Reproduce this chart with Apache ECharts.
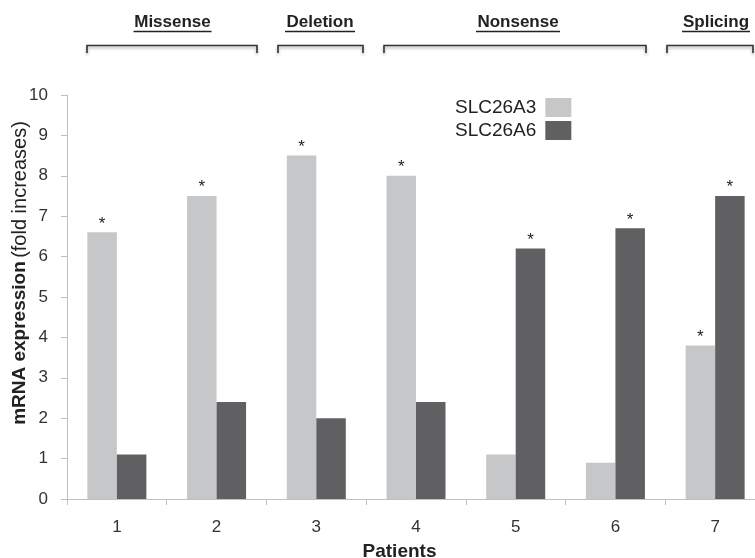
<!DOCTYPE html>
<html>
<head>
<meta charset="utf-8">
<script src="https://cdn.jsdelivr.net/npm/echarts@6/dist/echarts.min.js"></script>
<style>html,body{margin:0;padding:0;background:#fff;}#c{width:755px;height:558px;}</style>
</head>
<body>
<div id="c"></div>
<script>
const patients = ['1','2','3','4','5','6','7'];
const slc26a3 = [6.6, 7.5, 8.5, 8.0, 1.1, 0.9, 3.8];
const slc26a6 = [1.1, 2.4, 2.0, 2.4, 6.2, 6.7, 7.5];
const sigA3 = [1, 1, 1, 1, 0, 0, 1];
const sigA6 = [0, 0, 0, 0, 1, 1, 1];
const groups = ['Missense', 'Deletion', 'Nonsense', 'Splicing'];
const yTicks = [0, 10, 1];

const FONT = 'Liberation Sans, Arial, sans-serif';
const LIGHT = '#c6c7c9';
const DARK = '#606062';
const AXIS = '#c0c0c0';

function mark(values, sig) {
  return values.map((v, i) => ({
    value: v,
    label: { show: !!sig[i] }
  }));
}

// annotation geometry (decorations above the plot)
const groupText = [
  { x: 172.5, w: 78 },
  { x: 320, w: 70 },
  { x: 518, w: 84 },
  { x: 716, w: 68 }
];
const brackets = [[87, 257], [278, 363], [384, 646], [667, 753]];

const graphic = [];
groups.forEach((g, i) => {
  graphic.push({
    type: 'text', x: groupText[i].x, y: 22,
    style: { text: g, font: 'bold 17px ' + FONT, fill: '#222', align: 'center', verticalAlign: 'middle' }
  });
  graphic.push({
    type: 'line',
    shape: { x1: groupText[i].x - groupText[i].w / 2, y1: 31.5, x2: groupText[i].x + groupText[i].w / 2, y2: 31.5 },
    style: { stroke: '#222', lineWidth: 1.6 }
  });
  const b = brackets[i];
  graphic.push({
    type: 'polyline',
    shape: { points: [[b[0], 53], [b[0], 45.5], [b[1], 45.5], [b[1], 53]] },
    style: {
      stroke: '#333', lineWidth: 1.6, fill: null,
      shadowBlur: 3, shadowColor: 'rgba(0,0,0,0.35)', shadowOffsetY: 2
    }
  });
});

const chart = echarts.init(document.getElementById('c'));
chart.setOption({
  animation: false,
  backgroundColor: '#fff',
  textStyle: { fontFamily: FONT },
  grid: { left: 67, right: -10, top: 95, bottom: 59, containLabel: false, outerBoundsMode: 'none' },
  legend: {
    orient: 'vertical', left: 450, top: 93,
    align: 'right', itemWidth: 26, itemHeight: 19, itemGap: 4,
    icon: 'rect',
    textStyle: { fontSize: 19, color: '#222', fontFamily: FONT, padding: [0, 4, 0, 0] },
    data: ['SLC26A3', 'SLC26A6']
  },
  xAxis: {
    type: 'category', data: patients,
    name: 'Patients', nameLocation: 'middle', nameGap: 43,
    nameTextStyle: { fontSize: 19, fontWeight: 'bold', color: '#222', padding: [0, 33, 0, 0] },
    axisLine: { lineStyle: { color: AXIS, width: 1 } },
    axisTick: { show: true, length: 6, lineStyle: { color: AXIS } },
    axisLabel: { fontSize: 17, color: '#333', margin: 20 }
  },
  yAxis: {
    type: 'value', min: yTicks[0], max: yTicks[1], interval: yTicks[2],
    name: '{b|mRNA expression} {r|(fold increases)}',
    nameLocation: 'middle', nameRotate: 90, nameGap: 37, nameMoveOverlap: false,
    nameTextStyle: {
      padding: [0, 0, 0, 48],
      rich: {
        b: { fontSize: 19, fontWeight: 'bold', color: '#222', fontFamily: FONT },
        r: { fontSize: 20, color: '#222', fontFamily: FONT }
      }
    },
    axisLine: { show: true, lineStyle: { color: AXIS, width: 1 } },
    axisTick: { show: true, length: 6, lineStyle: { color: AXIS } },
    axisLabel: { fontSize: 17, color: '#333', margin: 19 },
    splitLine: { show: false }
  },
  series: [
    {
      name: 'SLC26A3', type: 'bar', data: mark(slc26a3, sigA3),
      barWidth: 29.5, barGap: '0%',
      itemStyle: { color: LIGHT, borderColor: '#444', borderWidth: 0 },
      label: { position: 'top', formatter: '*', fontSize: 17, color: '#222', distance: 0 }
    },
    {
      name: 'SLC26A6', type: 'bar', data: mark(slc26a6, sigA6),
      barWidth: 29.5, barGap: '0%',
      itemStyle: { color: DARK, borderColor: '#444', borderWidth: 0 },
      label: { position: 'top', formatter: '*', fontSize: 17, color: '#222', distance: 0 }
    }
  ],
  graphic: graphic
});
</script>
</body>
</html>
